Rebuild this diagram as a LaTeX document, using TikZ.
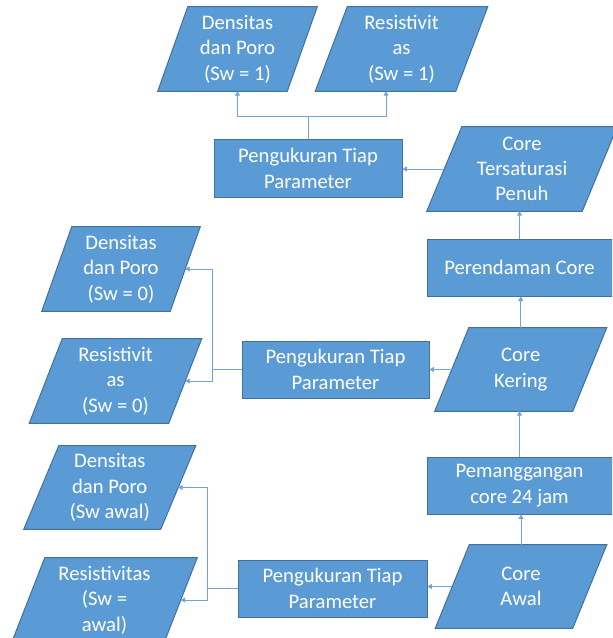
\documentclass[tikz,border=0pt]{standalone}
\usepackage{fontspec}
\setmainfont{Carlito}
\usetikzlibrary{arrows.meta,calc}
\pgfdeclarelayer{paper}
\pgfdeclarelayer{bg}
\pgfsetlayers{paper,bg,main}
\definecolor{boxfill}{HTML}{5B9BD5}
\definecolor{boxline}{HTML}{41719C}
\definecolor{conn}{HTML}{6FA3D9}
\tikzset{
  txt/.style={text=white, align=center, inner sep=0pt, font=\fontsize{15.5}{19}\selectfont},
  rectbox/.style={txt, draw=boxline, fill=boxfill, line width=0.75pt, minimum width=#1},
  rectbox/.default={185*0.75pt},
  parashape/.style={draw=boxline, fill=boxfill, line width=0.75pt},
  conline/.style={draw=conn, line width=0.65pt},
  arr/.style={conline, -{Triangle[length=3.2pt,width=3.6pt]}},
}
% name, center, width(px), height(px), slant(px), text
\newcommand\paranode[6]{%
  \node[txt, minimum width={#3*0.75pt}, minimum height={#4*0.75pt}] (#1) at #2 {#6};
  \begin{pgfonlayer}{bg}
    \path[parashape] ($(#1.north west)+(#5/2,0)$) -- ($(#1.north east)+(#5/2,0)$)
      -- ($(#1.south east)+(-#5/2,0)$) -- ($(#1.south west)+(-#5/2,0)$) -- cycle;
  \end{pgfonlayer}}
\begin{document}
\begin{tikzpicture}[x=0.75pt,y=-0.75pt]
\clip (0,0) rectangle (612,638);
\useasboundingbox (0,0) rectangle (612,638);
\begin{pgfonlayer}{paper}
\fill[white] (0,0) rectangle (612,638);
\end{pgfonlayer}

% top row
\paranode{d1}{(237.5,49)}{129}{84}{30}{Densitas\\dan Poro\\(Sw = 1)}
\paranode{r1}{(401.5,49)}{140}{84}{32}{Resistivit\\as\\(Sw = 1)}
\node[rectbox={188*0.75pt}, minimum height={57*0.75pt}] (b1) at (308,168.5) {Pengukuran Tiap\\Parameter};
\paranode{ts}{(522,169)}{155}{84}{35}{Core\\Tersaturasi\\Penuh}

% right column
\node[rectbox={185*0.75pt}, minimum height={57*0.75pt}] (per) at (519.5,267.5) {Perendaman Core};
\paranode{ker}{(520.75,369.5)}{137.5}{83}{34}{Core\\Kering}
\node[rectbox={185*0.75pt}, minimum height={57*0.75pt}] (pem) at (519.5,485.5) {Pemanggangan\\core 24 jam};
\paranode{awal}{(521,586.5)}{137}{83}{34}{Core\\Awal}

% middle boxes
\node[rectbox={187*0.75pt}, minimum height={57*0.75pt}] (b2) at (335.5,369.5) {Pengukuran Tiap\\Parameter};
\node[rectbox={189*0.75pt}, minimum height={57*0.75pt}] (b3) at (332.5,588.5) {Pengukuran Tiap\\Parameter};

% left column
\paranode{d0}{(121,269)}{128}{84}{30}{Densitas\\dan Poro\\(Sw = 0)}
\paranode{r0}{(115.5,381)}{139}{84}{33}{Resistivit\\as\\(Sw = 0)}
\paranode{dawal}{(109.75,487.5)}{136.5}{83}{35}{Densitas\\dan Poro\\(Sw awal)}
\paranode{rawal}{(104.5,600)}{152}{84}{33}{Resistivitas\\(Sw =\\awal)}

% connectors
\draw[arr] (ts.west) -- (ts.west -| b1.east);
\draw[arr] (per.north) -- (per.north |- ts.south);
\draw[arr] (ker.north) -- (ker.north |- per.south);
\draw[arr] (ker.west) -- (ker.west -| b2.east);
\draw[arr] (pem.north) -- (pem.north |- ker.south);
\draw[arr] (awal.north) -- (awal.north |- pem.south);
\draw[arr] (awal.west) -- (awal.west -| b3.east);

\coordinate (j1) at ($(b1.north)+(0,-23)$);
\draw[conline] (b1.north) -- (j1);
\draw[arr] (j1) -| (d1.south);
\draw[arr] (j1) -| ($(r1.south)+(-15.5,0)$);

\coordinate (j2) at ($(b2.west)+(-29,0)$);
\draw[conline] (b2.west) -- (j2);
\draw[arr] (j2) |- (d0.east);
\draw[arr] (j2) |- (r0.east);

\coordinate (j3) at ($(b3.west)+(-30,0)$);
\draw[conline] (b3.west) -- (j3);
\draw[arr] (j3) |- (dawal.east);
\draw[arr] (j3) |- (rawal.east);
\end{tikzpicture}
\end{document}
